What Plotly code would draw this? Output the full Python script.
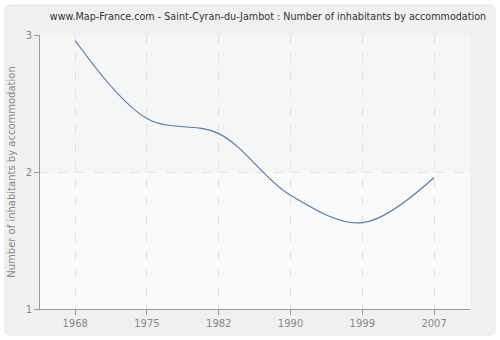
import plotly.graph_objects as go

years = ["1968", "1975", "1982", "1990", "1999", "2007"]
values = [2.96, 2.39, 2.28, 1.83, 1.63, 1.96]
y_ticks = [1, 2, 3]

L, R, T, B = 40, 30, 35, 31
W, H = 500, 340
pw, ph = W - L - R, H - T - B

def px(x):
    return (x - L) / pw

def py(y):
    return (H - B - y) / ph

x0, x1, y0, y1, r = px(5), px(495), py(335), py(5), 6
rx, ry = r / pw, r / ph
path = (f"M {x0+rx},{y1} L {x1-rx},{y1} Q {x1},{y1} {x1},{y1-ry} "
        f"L {x1},{y0+ry} Q {x1},{y0} {x1-rx},{y0} L {x0+rx},{y0} "
        f"Q {x0},{y0} {x0},{y0+ry} L {x0},{y1-ry} Q {x0},{y1} {x0+rx},{y1} Z")

fig = go.Figure()
fig.add_trace(go.Scatter(
    x=years, y=values, mode="lines",
    line=dict(color="#4f7db0", width=1.2, shape="spline", smoothing=1.0),
    hoverinfo="skip", showlegend=False,
))

fig.update_layout(
    width=W, height=H,
    margin=dict(l=L, r=R, t=T, b=B),
    paper_bgcolor="white",
    plot_bgcolor="#fafafa",
    font=dict(family="DejaVu Sans", size=10, color="#888888"),
    title=dict(
        text="www.Map-France.com - Saint-Cyran-du-Jambot : Number of inhabitants by accommodation",
        x=268 / W, xref="container", xanchor="center", y=1 - 17 / H, yanchor="middle",
        font=dict(family="DejaVu Sans", size=9.6, color="#333333"),
    ),
    shapes=[
        dict(type="path", path=path, xref="paper", yref="paper",
             fillcolor="#f0f0f0", line=dict(color="#e4e4e4", width=1), layer="below"),
        dict(type="rect", xref="paper", yref="paper", x0=0, x1=1, y0=0, y1=1,
             fillcolor="#fafafa", line=dict(width=0), layer="below"),
        dict(type="rect", xref="paper", yref="y", x0=0, x1=1, y0=2, y1=3,
             fillcolor="#f6f6f6", line=dict(width=0), layer="below"),
    ],
    xaxis=dict(
        type="category", range=[-0.49, 5.5],
        showgrid=True, gridcolor="#e2e2e2", griddash="dash", gridwidth=1,
        showline=True, linecolor="#999999", linewidth=1,
        ticks="outside", ticklen=5, tickcolor="#999999",
        tickfont=dict(size=10, color="#888888"),
        zeroline=False, fixedrange=True,
    ),
    yaxis=dict(
        range=[1, 3], tickvals=y_ticks, ticktext=[str(v) for v in y_ticks],
        showgrid=True, gridcolor="#e2e2e2", griddash="dash", gridwidth=1,
        showline=True, linecolor="#999999", linewidth=1,
        ticks="outside", ticklen=5, tickcolor="#999999",
        tickfont=dict(size=10, color="#888888"),
        title=dict(text="Number of inhabitants by accommodation", standoff=8,
                   font=dict(size=10, color="#888888")),
        zeroline=False, fixedrange=True,
    ),
)

fig.write_html("out.html")
